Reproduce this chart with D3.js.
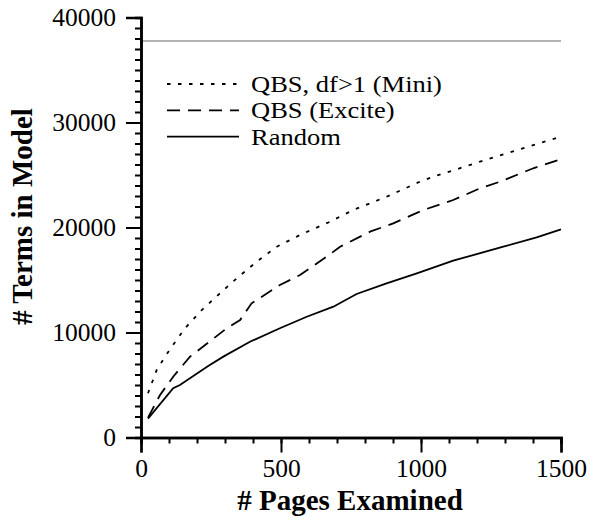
<!DOCTYPE html>
<html><head><meta charset="utf-8">
<script src="https://cdn.jsdelivr.net/npm/d3@7"></script>
<style>body{margin:0;background:#fff}svg{display:block}</style>
</head><body>
<svg id="c" width="589" height="527"></svg>
<script>
const miniX = [25,56,86,110,157,217,282,342,413,485,568,675,758,877,996,1044,1127,1211,1294,1377,1461,1500];
const miniY = [4210,6430,7700,8650,10400,12140,13730,15160,16740,18170,19290,20550,21670,22930,24360,24840,25540,26270,26970,27640,28330,28650];
const exciteX = [25,68,115,175,240,306,354,395,496,568,663,711,818,901,1009,1115,1211,1282,1401,1500];
const exciteY = [1900,4050,5790,7700,9030,10400,11190,12780,14520,15480,17220,18170,19600,20400,21670,22620,23730,24360,25640,26500];
const randomX = [25,115,139,240,294,389,496,592,687,770,877,985,1115,1294,1413,1500];
const randomY = [1800,4690,5000,6810,7700,9120,10400,11500,12460,13670,14680,15640,16840,18170,19070,19830];
const seriesNames = ["QBS, df>1 (Mini)", "QBS (Excite)", "Random"];
const refLine = 37760;
const xTicks = [0,500,1000,1500];
const yTicks = [0,10000,20000,30000,40000];

const svg = d3.select("#c");
const font = "'Liberation Serif', 'Times New Roman', serif";
const x = d3.scaleLinear().domain([0,1500]).range([141,561]);
const y = d3.scaleLinear().domain([0,40000]).range([437.5,17.5]);

// reference line
svg.append("line").attr("x1",x(0)).attr("x2",x(1500)).attr("y1",y(refLine)).attr("y2",y(refLine))
  .attr("stroke","#b3b3b3").attr("stroke-width",2);

// axes
const gx = svg.append("g").attr("transform","translate(0,437.5)");
gx.call(d3.axisBottom(x).tickValues(d3.range(0,1501,100)).tickSize(6).tickFormat(""));
const gx2 = svg.append("g").attr("transform","translate(0,437.5)");
gx2.call(d3.axisBottom(x).tickValues(xTicks).tickSize(15).tickPadding(6).tickFormat(d3.format("d")));
const gy = svg.append("g").attr("transform","translate(141,0)");
gy.call(d3.axisLeft(y).tickValues(d3.range(0,40001,1000)).tickSize(6).tickFormat(""));
const gy2 = svg.append("g").attr("transform","translate(141,0)");
gy2.call(d3.axisLeft(y).tickValues(yTicks).tickSize(15).tickPadding(10).tickFormat(d3.format("d")));
svg.selectAll(".domain").attr("stroke","#000").attr("stroke-width",2.5);
svg.selectAll(".tick line").attr("stroke","#000").attr("stroke-width",2);
svg.selectAll(".tick text").style("font-family",font).attr("font-size",25.5).attr("fill","#000");
gy2.selectAll(".tick text").attr("dy","0.33em");

// titles
svg.append("text").attr("x",350).attr("y",510).attr("text-anchor","middle")
  .style("font-family",font).attr("font-weight","bold").attr("font-size",29).text("# Pages Examined");
svg.append("text").attr("transform","translate(32,216.5) rotate(-90)").attr("text-anchor","middle")
  .style("font-family",font).attr("font-weight","bold").attr("font-size",29).text("# Terms in Model");

// lines
const line = d3.line().x(d=>x(d[0])).y(d=>y(d[1]));
const dashes = ["3.5,7.5","13,8",null];
const data = [d3.zip(miniX,miniY), d3.zip(exciteX,exciteY), d3.zip(randomX,randomY)];
data.forEach((d,i)=>{
  svg.append("path").datum(d).attr("d",line).attr("fill","none").attr("stroke","#000")
    .attr("stroke-width",1.8).attr("stroke-dasharray",dashes[i]);
});

// legend
seriesNames.forEach((n,i)=>{
  const yy = 84 + i*26.3;
  svg.append("line").attr("x1",167).attr("x2",239).attr("y1",yy).attr("y2",yy)
    .attr("stroke","#000").attr("stroke-width",1.8).attr("stroke-dasharray",dashes[i]);
  const t = svg.append("text").attr("x",251).attr("y",yy+8).style("font-family",font).attr("font-size",23.5).text(n);
  const len = t.node().getComputedTextLength();
  t.attr("textLength", len*1.128).attr("lengthAdjust","spacingAndGlyphs");
});
</script>
</body></html>
